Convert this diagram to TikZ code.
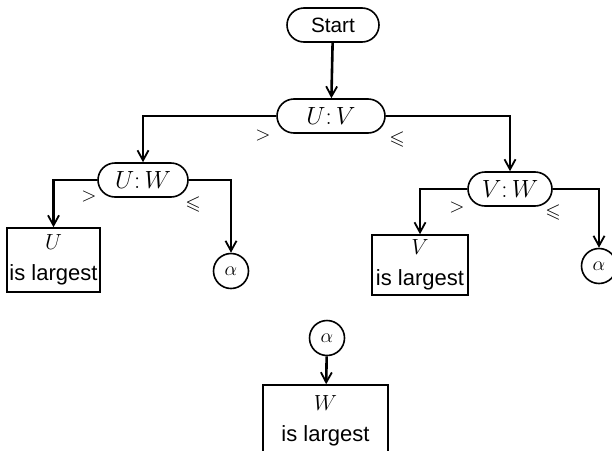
\documentclass[tikz,border=0pt]{standalone}
\usepackage{graphicx}
\usepackage{amssymb}
\usepackage{fontspec}
\setmainfont{Liberation Sans}
\usetikzlibrary{arrows.meta}
% math set at 24.88pt and scaled to the wanted size
\newcommand{\mathat}[2]{\scalebox{#1}{\fontsize{24.88}{28}\selectfont$#2$}}
\begin{document}
\begin{tikzpicture}[x=1pt,y=-1pt,
  every node/.style={font=\fontsize{20.74}{30}\selectfont},
  pill/.style={draw,line width=1.6pt,rounded corners=17pt,minimum height=34pt,inner sep=0pt},
  mathlbl/.style={font=\fontsize{24.88}{28}\selectfont},
  outbox/.style={draw,line width=1.6pt,inner sep=0pt,align=center,font=\fontsize{22}{31}\selectfont},
  joint/.style={draw,circle,line width=1.6pt,minimum size=35pt,inner sep=0pt},
  conn/.style={line width=2.6pt,-{Straight Barb[length=10pt,width=11pt,line width=1.8pt]}},
  lbl/.style={inner sep=0pt}]
\useasboundingbox (0,0) rectangle (612,450);

% decisions
\node[pill,minimum width=92pt] (start) at (333,25) {Start};
\node[pill,mathlbl,minimum width=108pt] (uv) at (331,116) {$U\mathpunct{:}V$};
\node[pill,mathlbl,minimum width=90pt] (uw) at (143,180) {$U\mathpunct{:}W$};
\node[pill,mathlbl,minimum width=84pt] (vw) at (510,189) {$V\mathpunct{:}W$};

% results and connectors
\node[outbox,minimum width=93pt,minimum height=64pt] (ubox) at (53.5,260) {\mathat{0.88}{U}\\is largest};
\node[outbox,minimum width=96pt,minimum height=60pt] (vbox) at (420,265) {\mathat{0.88}{V}\\is largest};
\node[joint] (a1) at (231,271) {\mathat{0.8}{\alpha}};
\node[joint] (a2) at (599,266) {\mathat{0.8}{\alpha}};
\node[joint] (a3) at (327,338) {\mathat{0.8}{\alpha}};
\node[outbox,minimum width=125pt,minimum height=72pt] (wbox) at (325.5,421) {\mathat{0.88}{W}\\is largest};

% branch labels
\node[lbl] (g1) at (263,136) {\mathat{0.8}{>}};
\node[lbl] (l1) at (397,140) {\mathat{0.8}{\leqslant}};
\node[lbl] (g2) at (89,197) {\mathat{0.8}{>}};
\node[lbl] (l2) at (193,205) {\mathat{0.8}{\leqslant}};
\node[lbl] (g3) at (457,208) {\mathat{0.8}{>}};
\node[lbl] (l3) at (553,213) {\mathat{0.8}{\leqslant}};

% flow lines
\draw[conn] (start) -- (uv);
\draw[conn] (uv.west) -| (uw.north);
\draw[conn] (uv.east) -| (vw.north);
\draw[conn] (uw.west) -| (ubox.north);
\draw[conn] (uw.east) -| (a1.north);
\draw[conn] (vw.west) -| (vbox.north);
\draw[conn] (vw.east) -| (a2.north);
\draw[conn] (a3) -- (wbox);
\end{tikzpicture}
\end{document}
